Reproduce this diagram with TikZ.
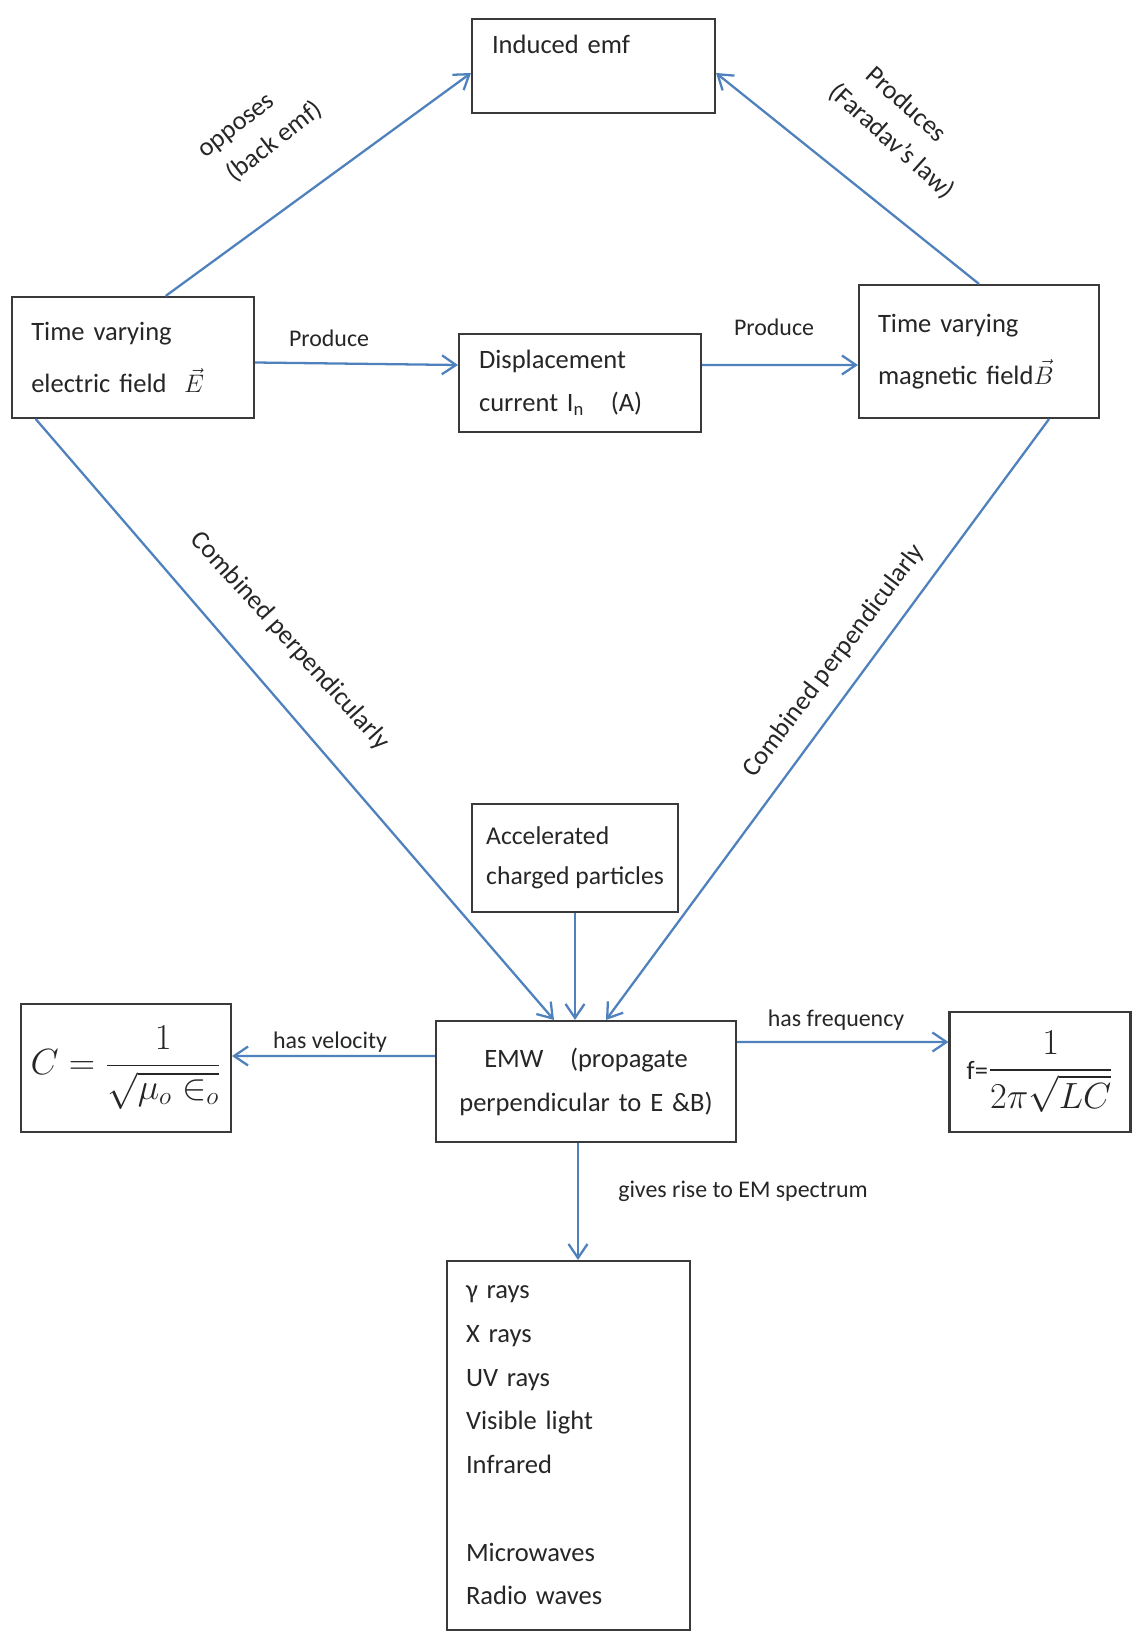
\documentclass[tikz,border=0pt]{standalone}
\usepackage{amsmath,amssymb}
\usepackage{fontspec}
\setmainfont{Carlito}
\usetikzlibrary{arrows.meta,positioning,calc}
\definecolor{Wire}{HTML}{4F81BD}
\definecolor{Edge}{HTML}{3A3A3A}
\definecolor{Ink}{HTML}{262626}
\tikzset{
  box/.style={draw=Edge,fill=white,line width=1.2pt,align=left,inner ysep=0pt,text=Ink,font=\fontsize{15.1}{29.5}\selectfont},
  mathbox/.style={box,align=center,font=\fontsize{20}{24}\selectfont},
  lbl/.style={text=Ink,font=\fontsize{13.6}{16}\selectfont,inner sep=1pt},
  slant/.style={text=Ink,font=\fontsize{15}{21}\selectfont,align=left,inner sep=1pt},
  flow/.style={-{Straight Barb[length=2.8mm,width=3.8mm]},draw=Wire,line width=1.3pt}
}
\begin{document}
\begin{tikzpicture}[x=0.02cm,y=-0.02cm]
  \useasboundingbox (0,0) rectangle (1135,1638);
  % boxes
  \node[box,text width=4.06cm,inner xsep=.4cm,text height=.7cm,text depth=1.18cm] (emf) at (593.5,66) {Induced emf};
  \node[box,text width=4.07cm,inner xsep=.38cm,minimum height=2.42cm] (efield) at (133,357.5) {Time varying\\electric field \ {\Large$\vec{E}$}};
  \node[box,text width=4.04cm,inner xsep=.4cm,minimum height=1.96cm,font=\fontsize{15.1}{24.4}\selectfont] (disp) at (580,383) {Displacement\\current I\textsubscript{n}\quad(A)};
  \node[box,text width=4.04cm,inner xsep=.38cm,minimum height=2.66cm] (bfield) at (979,351.5) {Time varying\\magnetic field{\Large$\vec{B}$}};
  \node[box,minimum width=4.12cm,minimum height=2.16cm,font=\fontsize{14.6}{22.5}\selectfont] (accel) at (575,858) {Accelerated\\charged particles};
  \node[mathbox,minimum width=4.2cm,minimum height=2.56cm] (cbox) at (126,1068) {$C=\dfrac{1}{\sqrt{\mu_o\in_o}}$};
  \node[box,text width=5.2cm,inner xsep=.4cm,minimum height=2.42cm,align=center,font=\fontsize{15.1}{25}\selectfont] (emw) at (586,1081.5) {EMW\ \ \ (propagate\\perpendicular to E \&B)};
  \node[mathbox,minimum width=3.62cm,minimum height=2.4cm] (fbox) at (1040,1072) {{\fontsize{15.1}{18}\selectfont f=}$\dfrac{1}{2\pi\sqrt{LC}}$};
  \node[box,text width=4.1cm,inner xsep=.38cm,minimum height=7.38cm,font=\fontsize{15.1}{24.9}\selectfont] (spec) at (568.5,1445.5) {γ rays\\X rays\\UV rays\\Visible light\\Infrared\\\mbox{}\\Microwaves\\Radio waves};
  % connectors
  \draw[flow] ([xshift=3.09cm]efield.north west) -- ([yshift=-.14cm]emf.west);
  \draw[flow] (bfield.north) -- ([yshift=-.14cm]emf.east);
  \draw[flow] ([yshift=-.1cm]efield.east) -- ([yshift=.36cm]disp.west);
  \draw[flow] ([yshift=.36cm]disp.east) -- ([yshift=-.27cm]bfield.west);
  \draw[flow] ([xshift=.49cm]efield.south west) -- ([xshift=-.64cm]emw.north);
  \draw[flow] ([xshift=-1.02cm]bfield.south east) -- ([xshift=.4cm]emw.north);
  \draw[flow] (accel.south) -- (accel.south |- emw.north);
  \draw[flow] ([yshift=.51cm]emw.west) -- ([yshift=.24cm]cbox.east);
  \draw[flow] ([yshift=.79cm]emw.east) -- ([yshift=.6cm]fbox.west);
  \draw[flow] ([xshift=-.16cm]emw.south) -- ([xshift=-.16cm]emw.south |- spec.north);
  % labels
  \node[slant,rotate=38] (opp) at (262,132) {opposes\\\hspace*{.3em}(back emf)};
  \node[slant,rotate=-42] (far) at (904,128) {\hspace*{.6em}Produces\\(Faradav’s law)};
  \node[lbl] (prodA) at (329,338) {Produce};
  \node[lbl] (prodB) at (774,327) {Produce};
  \node[slant,rotate=-48] (combA) at (290,641) {Combined perpendicularly};
  \node[slant,rotate=53] (combB) at (834,661) {Combined perpendicularly};
  \node[lbl] (vel) at (330,1042) {has velocity};
  \node[lbl] (freq) at (836,1020) {has frequency};
  \node[lbl] (spectxt) at (743,1191) {gives rise to EM spectrum};
\end{tikzpicture}
\end{document}
